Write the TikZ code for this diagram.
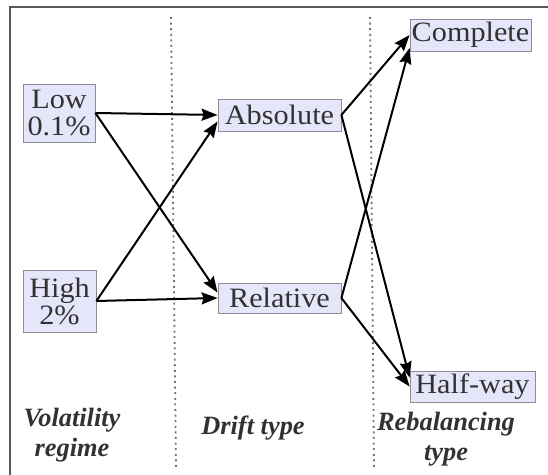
\documentclass[tikz,border=0pt]{standalone}
\usepackage{fontspec}
\setmainfont{Liberation Serif}
\newfontfamily\boxfont{Liberation Serif}[FakeStretch=1.08]
\usepackage{tikz}
\usetikzlibrary{arrows.meta}
\definecolor{boxfill}{RGB}{230,230,250}
\definecolor{boxline}{RGB}{140,140,150}
\definecolor{txt}{RGB}{50,50,50}

\begin{document}
\begin{tikzpicture}[x=0.5pt,y=-0.5pt,>={Stealth[inset=1pt,length=8pt,width=6pt]},
  level/.style={draw=boxline, fill=boxfill, inner sep=0pt, text=txt, align=center,
    font=\boxfont\fontsize{14}{13.5}\selectfont},
  heading/.style={text=txt, align=center,
    font=\bfseries\itshape\fontsize{13.2}{15}\selectfont},
  divider/.style={black!55, line width=0.9pt, dash pattern=on 1pt off 1.8pt},
  link/.style={->, line width=1pt}]
  \useasboundingbox (0,0) rectangle (548,475);
  \draw[black!65, line width=1pt] (10,475) -- (10,7) -- (548,7);
  \draw[divider] (171,17) -- (176,469);
  \draw[divider] (370,17) -- (374,469);

  \node[level, minimum width=36pt, minimum height=29pt] (low) at (59,113) {Low\\0.1\%};
  \node[level, minimum width=36.5pt, minimum height=31pt] (high) at (59.5,301) {High\\2\%};
  \node[level, minimum width=61.5pt, minimum height=16pt] (abs) at (279.5,115) {Absolute};
  \node[level, minimum width=61.5pt, minimum height=15pt] (rel) at (279.5,298) {Relative};
  \node[level, minimum width=60.5pt, minimum height=16pt] (cmp) at (470.5,35) {Complete};
  \node[level, minimum width=62.5pt, minimum height=15.5pt] (half) at (472.5,386.5) {Half-way};

  \draw[link] (low.east) -- (abs.west);
  \draw[link] (low.east) -- (rel.175);
  \draw[link] (high.east) -- (abs.186);
  \draw[link] (high.east) -- (rel.west);
  \draw[link] (abs.east) -- (cmp.west);
  \draw[link] (abs.east) -- (half.172);
  \draw[link] (rel.east) -- (cmp.192);
  \draw[link] (rel.east) -- (half.west);

  \node[heading] (vol) at (72,435) {Volatility\\regime};
  \node[heading] (drift) at (253,428) {Drift type};
  \node[heading] (rebal) at (446,439) {Rebalancing\\type};
\end{tikzpicture}
\end{document}
